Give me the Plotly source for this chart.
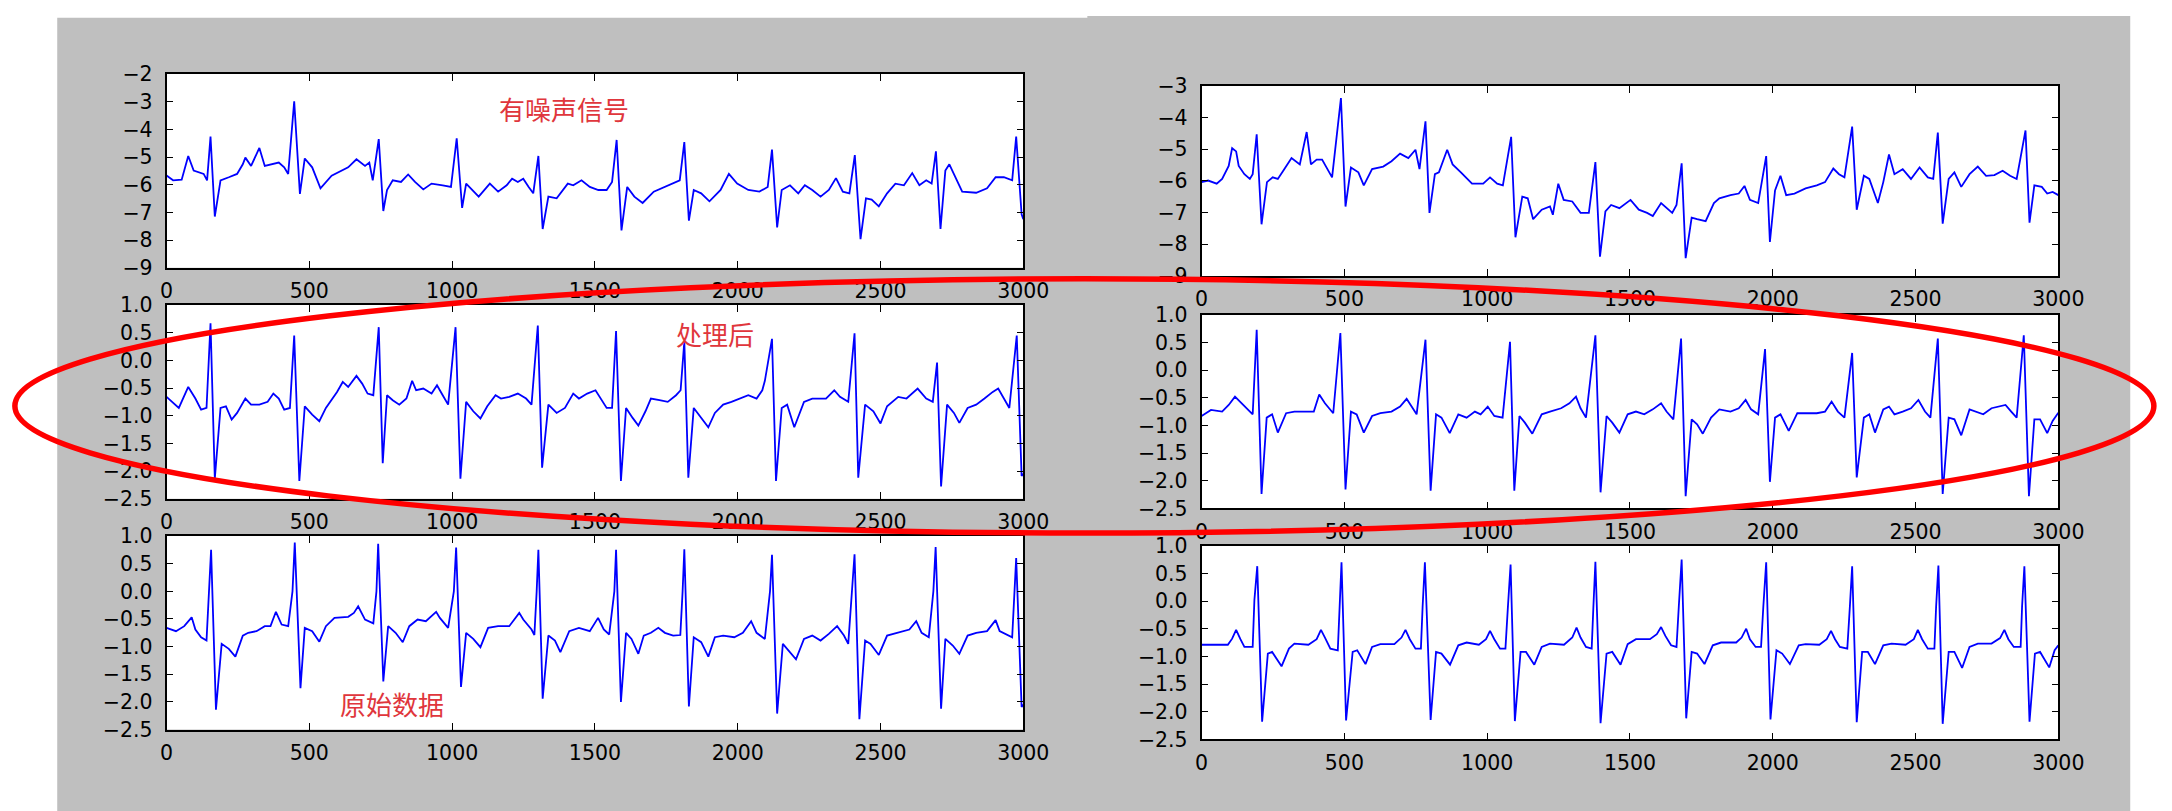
import plotly.graph_objects as go

# ---------------- data ----------------
noisy_a_x = [0, 23, 53, 76, 95, 130, 142, 154, 169, 189, 218, 247, 267, 276, 296, 325, 344, 364, 393, 412, 426,
             447, 467, 484, 510, 539, 578, 636, 665, 695, 710, 722, 743, 759, 772, 792, 821, 846, 870, 899, 928,
             967, 996, 1016, 1035, 1049, 1064, 1093, 1132, 1161, 1191, 1210, 1230, 1249, 1268, 1284, 1302, 1317,
             1337, 1366, 1405, 1424, 1453, 1482, 1512, 1541, 1560, 1576, 1593, 1613, 1638, 1667, 1706, 1745, 1774,
             1797, 1813, 1829, 1846, 1872, 1901, 1940, 1969, 1998, 2037, 2076, 2105, 2120, 2138, 2154, 2183, 2212,
             2235, 2261, 2290, 2319, 2344, 2368, 2391, 2410, 2430, 2449, 2469, 2494, 2523, 2552, 2582, 2611, 2636,
             2660, 2679, 2694, 2710, 2727, 2741, 2757, 2786, 2835, 2873, 2903, 2932, 2961, 2975, 2994, 3000]
noisy_a_y = [-5.67, -5.84, -5.82, -4.96, -5.49, -5.61, -5.84, -4.26, -7.15, -5.84, -5.73, -5.61, -5.26, -5.02,
             -5.32, -4.67, -5.32, -5.26, -5.20, -5.37, -5.61, -2.98, -6.33, -5.05, -5.37, -6.13, -5.67, -5.37,
             -5.08, -5.32, -5.20, -5.84, -4.35, -6.95, -6.19, -5.84, -5.90, -5.63, -5.90, -6.17, -5.96, -6.02,
             -6.08, -4.32, -6.84, -5.96, -6.13, -6.43, -5.96, -6.25, -6.02, -5.78, -5.90, -5.78, -6.08, -6.31,
             -4.96, -7.60, -6.43, -6.49, -5.96, -6.02, -5.84, -6.08, -6.19, -6.19, -5.90, -4.38, -7.65, -6.08,
             -6.43, -6.66, -6.25, -6.08, -5.96, -5.84, -4.46, -7.30, -6.19, -6.31, -6.60, -6.19, -5.61, -5.96,
             -6.19, -6.25, -6.08, -4.73, -7.54, -6.19, -6.02, -6.31, -6.02, -6.19, -6.43, -6.19, -5.76, -6.25,
             -6.31, -4.93, -7.97, -6.49, -6.54, -6.78, -6.31, -5.96, -6.02, -5.58, -6.02, -5.84, -5.96, -4.79,
             -7.60, -5.49, -5.26, -5.61, -6.25, -6.29, -6.13, -5.73, -5.73, -5.84, -4.26, -7.07, -7.25]

proc_a_x = [0, 23, 43, 76, 101, 121, 140, 154, 169, 189, 208, 228, 247, 276, 296, 325, 354, 374, 393, 412, 432,
            447, 465, 484, 510, 535, 558, 597, 617, 636, 665, 685, 704, 724, 743, 757, 772, 792, 815, 840, 860,
            874, 899, 928, 947, 967, 986, 1012, 1029, 1049, 1074, 1099, 1123, 1152, 1171, 1200, 1230, 1259, 1278,
            1300, 1315, 1337, 1366, 1395, 1424, 1444, 1473, 1502, 1521, 1541, 1560, 1574, 1591, 1609, 1632, 1652,
            1677, 1696, 1726, 1755, 1784, 1800, 1813, 1827, 1846, 1872, 1897, 1920, 1949, 1978, 2008, 2037, 2066,
            2086, 2095, 2120, 2134, 2154, 2173, 2198, 2232, 2261, 2309, 2338, 2358, 2387, 2409, 2422, 2446, 2475,
            2500, 2523, 2562, 2591, 2630, 2660, 2683, 2698, 2712, 2733, 2757, 2776, 2805, 2835, 2864, 2893, 2912,
            2932, 2951, 2977, 2994, 3000]
proc_a_y = [-0.66, -0.77, -0.86, -0.48, -0.69, -0.89, -0.86, 0.67, -2.14, -0.86, -0.83, -1.07, -0.95, -0.69,
            -0.80, -0.80, -0.75, -0.60, -0.69, -0.89, -0.86, 0.45, -2.18, -0.83, -0.98, -1.10, -0.86, -0.57,
            -0.39, -0.48, -0.28, -0.42, -0.60, -0.63, 0.60, -1.86, -0.63, -0.72, -0.80, -0.69, -0.37, -0.54,
            -0.51, -0.60, -0.45, -0.63, -0.80, 0.60, -2.14, -0.75, -0.92, -1.05, -0.83, -0.63, -0.69, -0.66,
            -0.60, -0.69, -0.80, 0.63, -1.94, -0.80, -0.95, -0.86, -0.60, -0.69, -0.60, -0.54, -0.69, -0.86,
            -0.86, 0.53, -2.18, -0.86, -1.04, -1.18, -0.92, -0.69, -0.72, -0.75, -0.63, -0.54, 0.34, -2.12,
            -0.86, -1.04, -1.21, -0.95, -0.80, -0.75, -0.69, -0.63, -0.69, -0.54, -0.37, 0.39, -2.18, -0.86,
            -0.80, -1.21, -0.75, -0.69, -0.69, -0.54, -0.66, -0.75, 0.49, -2.12, -0.80, -0.92, -1.14, -0.83,
            -0.66, -0.69, -0.51, -0.69, -0.75, -0.04, -2.28, -0.80, -0.95, -1.13, -0.86, -0.80, -0.69, -0.57,
            -0.51, -0.69, -0.86, 0.45, -2.09, -2.05]

orig_a_x = [0, 33, 62, 88, 101, 121, 140, 150, 156, 173, 193, 218, 241, 267, 286, 315, 344, 364, 383, 403, 426,
            441, 449, 469, 484, 510, 535, 558, 588, 636, 656, 671, 695, 724, 735, 741, 759, 776, 802, 827, 850,
            879, 908, 944, 957, 986, 1006, 1014, 1031, 1049, 1074, 1099, 1126, 1161, 1200, 1235, 1249, 1278, 1288,
            1296, 1302, 1317, 1337, 1360, 1379, 1410, 1444, 1482, 1511, 1531, 1550, 1568, 1574, 1591, 1609, 1628,
            1652, 1671, 1696, 1722, 1745, 1774, 1799, 1807, 1813, 1829, 1846, 1872, 1897, 1920, 1949, 1988, 2018,
            2047, 2066, 2095, 2113, 2120, 2138, 2158, 2183, 2204, 2232, 2261, 2290, 2319, 2348, 2372, 2387, 2401,
            2409, 2426, 2446, 2465, 2494, 2523, 2562, 2601, 2625, 2644, 2669, 2685, 2693, 2712, 2727, 2753, 2776,
            2805, 2835, 2873, 2903, 2917, 2961, 2969, 2975, 2994, 3000]
orig_a_y = [-0.66, -0.72, -0.63, -0.47, -0.69, -0.83, -0.89, 0.01, 0.75, -2.14, -0.95, -1.04, -1.18, -0.80,
            -0.75, -0.72, -0.63, -0.63, -0.37, -0.60, -0.63, 0.00, 0.88, -1.75, -0.66, -0.72, -0.91, -0.63,
            -0.48, -0.46, -0.39, -0.27, -0.51, -0.58, 0.00, 0.86, -1.63, -0.63, -0.75, -0.92, -0.63, -0.51,
            -0.54, -0.37, -0.48, -0.66, 0.00, 0.79, -1.73, -0.75, -0.86, -1.01, -0.66, -0.63, -0.63, -0.39,
            -0.51, -0.69, -0.79, 0.00, 0.75, -1.94, -0.80, -0.89, -1.10, -0.72, -0.66, -0.72, -0.48, -0.69,
            -0.78, 0.00, 0.75, -2.00, -0.75, -0.86, -1.13, -0.80, -0.75, -0.66, -0.75, -0.80, -0.79, 0.00,
            0.76, -2.08, -0.83, -0.92, -1.18, -0.83, -0.80, -0.83, -0.75, -0.54, -0.75, -0.86, 0.00, 0.66,
            -2.21, -0.95, -1.10, -1.23, -0.86, -0.80, -0.89, -0.77, -0.63, -0.80, -0.95, 0.00, 0.67, -2.31,
            -0.89, -0.95, -1.15, -0.80, -0.75, -0.69, -0.54, -0.75, -0.83, 0.00, 0.80, -2.12, -0.86, -0.98,
            -1.13, -0.80, -0.75, -0.72, -0.52, -0.72, -0.83, 0.00, 0.60, -2.09, -2.05]

noisy_b_x = [0, 23, 53, 72, 95, 107, 121, 130, 150, 169, 179, 193, 210, 229, 249, 267, 286, 315, 344, 368, 383,
             403, 422, 442, 457, 488, 504, 523, 549, 568, 597, 636, 665, 695, 724, 749, 763, 784, 798, 817, 831,
             860, 879, 908, 947, 986, 1010, 1035, 1055, 1084, 1099, 1123, 1142, 1161, 1191, 1220, 1230, 1249,
             1268, 1298, 1327, 1356, 1379, 1395, 1414, 1434, 1463, 1502, 1531, 1560, 1580, 1609, 1628, 1648, 1663,
             1681, 1695, 1716, 1735, 1765, 1794, 1813, 1852, 1881, 1901, 1920, 1949, 1977, 1990, 2008, 2027, 2047,
             2076, 2115, 2154, 2183, 2212, 2232, 2251, 2278, 2294, 2319, 2338, 2368, 2387, 2407, 2426, 2455, 2484,
             2514, 2543, 2562, 2578, 2595, 2616, 2636, 2660, 2689, 2718, 2747, 2776, 2805, 2831, 2854, 2885, 2899,
             2916, 2942, 2961, 2980, 3000]
noisy_b_y = [-6.04, -5.99, -6.09, -5.94, -5.53, -4.97, -5.07, -5.53, -5.79, -5.94, -5.79, -4.53, -7.37, -6.04,
             -5.89, -5.94, -5.68, -5.28, -5.48, -4.46, -5.48, -5.33, -5.33, -5.63, -5.89, -3.39, -6.81, -5.58,
             -5.73, -6.14, -5.63, -5.55, -5.38, -5.14, -5.28, -5.02, -5.63, -4.12, -7.01, -5.79, -5.73, -5.02,
             -5.48, -5.73, -6.09, -6.09, -5.89, -6.09, -6.14, -4.61, -7.78, -6.50, -6.55, -7.21, -6.91, -6.81,
             -7.07, -6.09, -6.60, -6.65, -7.01, -7.01, -5.41, -8.39, -6.96, -6.76, -6.86, -6.60, -6.91, -7.01,
             -7.11, -6.70, -6.86, -7.01, -6.76, -5.45, -8.44, -7.16, -7.21, -7.27, -6.70, -6.55, -6.45, -6.40,
             -6.16, -6.60, -6.70, -5.22, -7.93, -6.30, -5.84, -6.45, -6.40, -6.24, -6.14, -6.04, -5.61, -5.79,
             -5.89, -4.29, -6.91, -5.84, -5.94, -6.70, -6.04, -5.17, -5.79, -5.63, -5.94, -5.58, -5.89, -5.94,
             -4.48, -7.35, -5.94, -5.73, -6.19, -5.79, -5.55, -5.84, -5.82, -5.68, -5.84, -5.94, -4.41, -7.32,
             -6.14, -6.19, -6.40, -6.35, -6.45]

proc_b_x = [0, 33, 72, 95, 117, 140, 160, 179, 193, 210, 228, 247, 267, 296, 325, 364, 393, 412, 432, 461, 486,
            504, 523, 543, 568, 597, 626, 665, 695, 718, 734, 753, 784, 802, 821, 840, 869, 899, 928, 957, 977,
            1002, 1025, 1054, 1080, 1095, 1113, 1132, 1158, 1191, 1220, 1259, 1288, 1311, 1327, 1346, 1379, 1397,
            1418, 1438, 1463, 1492, 1521, 1550, 1580, 1609, 1628, 1652, 1679, 1695, 1716, 1735, 1755, 1784, 1813,
            1852, 1881, 1905, 1924, 1949, 1973, 1990, 2008, 2027, 2056, 2086, 2115, 2154, 2183, 2206, 2228, 2251,
            2278, 2294, 2319, 2338, 2358, 2387, 2407, 2426, 2455, 2484, 2510, 2533, 2552, 2578, 2595, 2616, 2636,
            2660, 2689, 2708, 2737, 2766, 2815, 2835, 2854, 2879, 2897, 2916, 2936, 2961, 2980, 3000]
proc_b_y = [-0.83, -0.72, -0.75, -0.63, -0.48, -0.60, -0.69, -0.80, 0.73, -2.24, -0.86, -0.80, -1.13, -0.78,
            -0.75, -0.75, -0.75, -0.44, -0.60, -0.78, 0.67, -2.16, -0.75, -0.80, -1.13, -0.83, -0.78, -0.75,
            -0.66, -0.52, -0.66, -0.80, 0.55, -2.18, -0.80, -0.86, -1.14, -0.80, -0.86, -0.75, -0.80, -0.66,
            -0.83, -0.86, 0.51, -2.18, -0.83, -0.95, -1.15, -0.80, -0.75, -0.69, -0.60, -0.48, -0.69, -0.86,
            0.63, -2.21, -0.83, -0.95, -1.13, -0.80, -0.75, -0.80, -0.71, -0.60, -0.75, -0.89, 0.57, -2.28,
            -0.89, -0.98, -1.15, -0.86, -0.71, -0.75, -0.69, -0.54, -0.71, -0.80, 0.38, -2.02, -0.86, -0.80,
            -1.10, -0.78, -0.78, -0.78, -0.75, -0.57, -0.75, -0.86, 0.31, -1.94, -0.86, -0.80, -1.13, -0.71,
            -0.66, -0.80, -0.75, -0.69, -0.54, -0.75, -0.86, 0.57, -2.24, -0.86, -0.89, -1.18, -0.71, -0.75,
            -0.80, -0.69, -0.63, -0.75, -0.86, 0.63, -2.28, -0.89, -0.89, -1.14, -0.92, -0.77]

orig_b_x = [0, 53, 92, 107, 121, 136, 150, 179, 185, 195, 212, 232, 247, 280, 306, 325, 374, 403, 418, 432, 451,
            477, 484, 490, 506, 529, 545, 574, 597, 626, 675, 700, 714, 729, 749, 768, 774, 782, 802, 821, 840,
            870, 899, 928, 971, 996, 1010, 1025, 1045, 1064, 1072, 1082, 1097, 1117, 1136, 1165, 1191, 1220, 1269,
            1298, 1313, 1327, 1346, 1366, 1372, 1379, 1397, 1418, 1438, 1467, 1492, 1521, 1570, 1594, 1609, 1624,
            1644, 1663, 1671, 1681, 1697, 1716, 1735, 1761, 1790, 1819, 1872, 1891, 1907, 1920, 1940, 1959, 1967,
            1977, 1992, 2013, 2033, 2060, 2091, 2115, 2163, 2189, 2204, 2218, 2235, 2261, 2270, 2278, 2294, 2313,
            2333, 2358, 2387, 2416, 2465, 2494, 2508, 2523, 2543, 2566, 2572, 2580, 2595, 2616, 2636, 2663, 2689,
            2718, 2766, 2796, 2811, 2825, 2844, 2868, 2873, 2881, 2899, 2918, 2936, 2968, 2987, 3000]
orig_b_y = [-0.79, -0.79, -0.79, -0.68, -0.52, -0.69, -0.83, -0.83, 0.02, 0.63, -2.18, -0.95, -0.92, -1.18,
            -0.86, -0.77, -0.79, -0.69, -0.52, -0.66, -0.86, -0.89, -0.16, 0.70, -2.16, -0.92, -0.89, -1.14,
            -0.83, -0.78, -0.78, -0.66, -0.52, -0.69, -0.86, -0.86, -0.10, 0.70, -2.15, -0.92, -0.95, -1.15,
            -0.80, -0.75, -0.79, -0.69, -0.54, -0.69, -0.86, -0.86, -0.16, 0.66, -2.17, -0.92, -0.92, -1.15,
            -0.83, -0.77, -0.79, -0.66, -0.48, -0.66, -0.83, -0.86, -0.10, 0.71, -2.21, -0.95, -0.92, -1.15,
            -0.78, -0.69, -0.69, -0.60, -0.47, -0.63, -0.80, -0.83, -0.10, 0.75, -2.12, -0.92, -0.95, -1.14,
            -0.80, -0.75, -0.75, -0.66, -0.50, -0.69, -0.83, -0.83, -0.10, 0.70, -2.14, -0.89, -0.95, -1.14,
            -0.80, -0.78, -0.79, -0.69, -0.54, -0.69, -0.83, -0.86, -0.10, 0.63, -2.19, -0.92, -0.92, -1.14,
            -0.80, -0.77, -0.79, -0.69, -0.52, -0.69, -0.86, -0.86, -0.10, 0.64, -2.22, -0.92, -0.92, -1.21,
            -0.83, -0.77, -0.77, -0.67, -0.52, -0.69, -0.83, -0.83, -0.10, 0.63, -2.18, -0.95, -0.92, -1.20,
            -0.89, -0.80]

x_ticks = [0, 500, 1000, 1500, 2000, 2500, 3000]
labels = ["有噪声信号", "处理后", "原始数据"]

# ---------------- layout geometry (pixels) ----------------
W, H = 2172, 811
def fx(p): return p / W
def fy(p): return 1 - p / H

panels = [  # (x data, y data, x px range, y px range (top,bottom), y range, dtick, fmt)
    (noisy_a_x, noisy_a_y, (162, 1032), (64, 263.5), [-9, -2], 1, None),
    (proc_a_x, proc_a_y, (162, 1032), (302, 501.5), [-2.5, 1.0], 0.5, ".1f"),
    (orig_a_x, orig_a_y, (162, 1032), (540, 739.5), [-2.5, 1.0], 0.5, ".1f"),
    (noisy_b_x, noisy_b_y, (1213, 2083), (76, 272), [-9, -3], 1, None),
    (proc_b_x, proc_b_y, (1213, 2083), (312, 511.5), [-2.5, 1.0], 0.5, ".1f"),
    (orig_b_x, orig_b_y, (1213, 2083), (550, 749.5), [-2.5, 1.0], 0.5, ".1f"),
]

GREY = "#bfbfbf"
shapes = [
    # grey figure backgrounds (left and right matplotlib figures), slightly overlapping
    dict(type="rect", xref="paper", yref="paper", x0=fx(51), x1=fx(1101), y0=-0.02, y1=fy(6),
         fillcolor=GREY, line=dict(width=0), layer="below"),
    dict(type="rect", xref="paper", yref="paper", x0=fx(1097), x1=fx(2156), y0=-0.02, y1=fy(4),
         fillcolor=GREY, line=dict(width=0), layer="below"),
]

fig = go.Figure()
tickfont = dict(family="DejaVu Sans", size=20.5, color="black")
layout = {}
for i, (xs, ys, (xl, xr), (yt, yb), yr, dt, fmt) in enumerate(panels, start=1):
    sfx = "" if i == 1 else str(i)
    fig.add_trace(go.Scatter(x=xs, y=ys, mode="lines", line=dict(color="#0000ff", width=1.8),
                             xaxis="x" + sfx, yaxis="y" + sfx, showlegend=False, hoverinfo="skip"))
    common = dict(showline=True, linecolor="black", linewidth=1.6, mirror="allticks", ticks="inside",
                  ticklen=7, tickwidth=1, tickcolor="black", showgrid=False, zeroline=False,
                  tickfont=tickfont)
    layout["xaxis" + sfx] = dict(domain=[fx(xl), fx(xr)], anchor="y" + sfx, range=[0, 3000],
                                 tickmode="array", tickvals=x_ticks, ticklabelstandoff=4, **common)
    ydict = dict(domain=[fy(yb), fy(yt)], anchor="x" + sfx, range=yr, dtick=dt, tick0=0,
                 ticklabelstandoff=8, **common)
    if fmt:
        ydict["tickformat"] = fmt
    layout["yaxis" + sfx] = ydict
    # white axes background (drawn over the grey panel)
    shapes.append(dict(type="rect", xref="paper", yref="paper", x0=fx(xl), x1=fx(xr), y0=fy(yb), y1=fy(yt),
                       fillcolor="white", line=dict(width=0), layer="below"))

fig.update_layout(**layout)

# red ellipse mark
shapes.append(dict(type="circle", xref="paper", yref="paper", x0=fx(8), x1=fx(2180), y0=fy(537), y1=fy(275),
                   line=dict(color="#ff0000", width=5.5), layer="above"))

annotations = [
    dict(text=labels[0], x=fx(566), y=fy(99)),
    dict(text=labels[1], x=fx(719), y=fy(331)),
    dict(text=labels[2], x=fx(391), y=fy(713)),
]
for a in annotations:
    a.update(xref="paper", yref="paper", showarrow=False, xanchor="center", yanchor="middle",
             font=dict(family="Noto Sans CJK SC", size=26, color="#e0363c"))

fig.update_layout(width=W, height=H, autosize=False, margin=dict(l=0, r=0, t=0, b=0, pad=0),
                  paper_bgcolor="white", plot_bgcolor="rgba(0,0,0,0)", shapes=shapes,
                  annotations=annotations, showlegend=False)

fig.write_html("out.html", config={"displayModeBar": False},
               post_script="document.body.style.margin='0';document.body.style.overflow='hidden';")
